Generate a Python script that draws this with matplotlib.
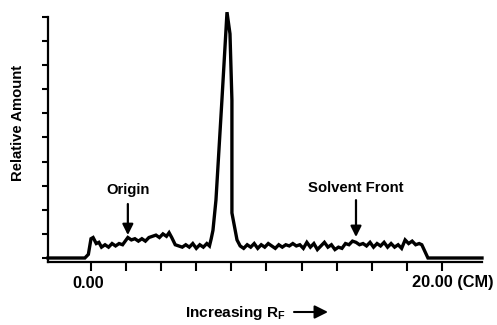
import matplotlib
matplotlib.use('Agg')
import matplotlib.pyplot as plt

plt.rcParams['font.family'] = ['Liberation Sans', 'DejaVu Sans']
plt.rcParams['font.weight'] = 'bold'
plt.rcParams['mathtext.fontset'] = 'custom'
plt.rcParams['mathtext.rm'] = 'Liberation Sans:bold'
plt.rcParams['mathtext.bf'] = 'Liberation Sans:bold'

# scan position (cm) and relative amount
position = [-2.45, -0.35, -0.15, 0.0, 0.12, 0.3, 0.45, 0.6, 0.8, 1.0, 1.2, 1.4,
            1.6, 1.8, 1.95, 2.1, 2.3, 2.5, 2.7, 2.9, 3.1, 3.3, 3.5, 3.7, 3.9,
            4.1, 4.3, 4.45, 4.6, 4.8, 5.0, 5.2, 5.4, 5.6, 5.8, 6.0, 6.2, 6.4,
            6.6, 6.75, 6.85, 6.95, 7.12, 7.46, 7.75, 7.92, 8.03, 8.03, 8.32,
            8.5, 8.7, 8.9, 9.1, 9.3, 9.5, 9.7, 9.9, 10.1, 10.3, 10.5, 10.7,
            10.9, 11.1, 11.3, 11.5, 11.7, 11.9, 12.1, 12.3, 12.5, 12.7, 12.9,
            13.1, 13.3, 13.5, 13.7, 13.9, 14.1, 14.3, 14.5, 14.7, 14.9, 15.1,
            15.3, 15.5, 15.7, 15.9, 16.1, 16.3, 16.5, 16.7, 16.9, 17.1, 17.3,
            17.5, 17.7, 17.9, 18.1, 18.3, 18.5, 18.7, 18.85, 19.2, 22.28]
amount = [0.0, 0.0, 0.15, 0.8, 0.85, 0.6, 0.65, 0.45, 0.55, 0.45, 0.6, 0.5,
          0.6, 0.55, 0.7, 0.85, 0.75, 0.8, 0.7, 0.8, 0.7, 0.85, 0.9, 0.95, 0.85,
          1.0, 0.9, 1.05, 0.85, 0.55, 0.5, 0.45, 0.55, 0.45, 0.6, 0.4, 0.55, 0.45,
          0.6, 0.5, 0.8, 1.15, 2.4, 6.55, 10.2, 9.3, 6.55, 1.87, 0.75,
          0.5, 0.4, 0.55, 0.45, 0.6, 0.4, 0.55, 0.45, 0.6, 0.5, 0.4, 0.55,
          0.45, 0.55, 0.5, 0.6, 0.5, 0.55, 0.4, 0.65, 0.45, 0.6, 0.35,
          0.5, 0.65, 0.45, 0.55, 0.35, 0.45, 0.4, 0.6, 0.55, 0.7, 0.65,
          0.55, 0.6, 0.5, 0.65, 0.45, 0.6, 0.5, 0.65, 0.45, 0.6, 0.45,
          0.55, 0.4, 0.75, 0.6, 0.7, 0.55, 0.6, 0.55, 0.0, 0.0]

x_ticks = [0, 2, 4, 6, 8, 10, 12, 14, 16, 18, 20]
y_ticks = [0, 1, 2, 3, 4, 5, 6, 7, 8, 9, 10]

origin_x = 2.1
front_x = 15.1

fig = plt.figure(figsize=(4.97, 3.25), dpi=100)
ax = fig.add_axes([48 / 497, 1 - 262 / 325, 434 / 497, 245 / 325])

ax.plot(position, amount, color='black', lw=2.4, clip_on=False,
        solid_joinstyle='miter')

ax.set_xlim(-2.45, 22.28)
ax.set_ylim(-0.166, 10)
ax.spines['top'].set_visible(False)
ax.spines['right'].set_visible(False)
ax.spines['left'].set_linewidth(1.6)
ax.spines['bottom'].set_linewidth(1.6)

ax.set_yticks(y_ticks)
ax.set_xticks(x_ticks)
ax.tick_params(axis='y', direction='out', length=4.5, width=1.5, labelleft=False)
ax.tick_params(axis='x', direction='out', length=6.5, width=1.5, labelbottom=False)

fs = 10.7
tick_fs = 11.8
ax.annotate('0.00', xy=(0, 0), xycoords=('data', 'axes fraction'),
            xytext=(-3, -21), textcoords='offset pixels',
            ha='center', va='center', fontsize=tick_fs, fontweight='bold')
ax.annotate('20.00 (CM)', xy=(20, 0), xycoords=('data', 'axes fraction'),
            xytext=(-30, -21), textcoords='offset pixels',
            ha='left', va='center', fontsize=tick_fs, fontweight='bold')

arrow = dict(arrowstyle='-|>', color='black', lw=1.6, mutation_scale=16,
             shrinkA=0, shrinkB=0)
ax.annotate('', xy=(origin_x, 0.95), xytext=(origin_x, 2.24), arrowprops=arrow)
ax.text(origin_x, 2.82, 'Origin', ha='center', va='center', fontsize=fs,
        fontweight='bold')
ax.annotate('', xy=(front_x, 0.87), xytext=(front_x, 2.4), arrowprops=arrow)
ax.text(front_x, 2.9, 'Solvent Front', ha='center', va='center', fontsize=fs,
        fontweight='bold')

fig.text(18 / 497, 1 - 123 / 325, 'Relative Amount', rotation=90,
         ha='center', va='center', fontsize=fs, fontweight='bold')
fig.text(185 / 497, 1 - 313 / 325, r'Increasing R$_{\rm F}$', ha='left',
         va='center', fontsize=11.1, fontweight='bold')
fig.add_artist(matplotlib.patches.FancyArrowPatch(
    (294 / 497, 1 - 312 / 325), (328 / 497, 1 - 312 / 325),
    transform=fig.transFigure, arrowstyle='-|>', color='black', lw=1.5,
    mutation_scale=20, shrinkA=0, shrinkB=0))

fig.savefig('out.png', dpi=100)
